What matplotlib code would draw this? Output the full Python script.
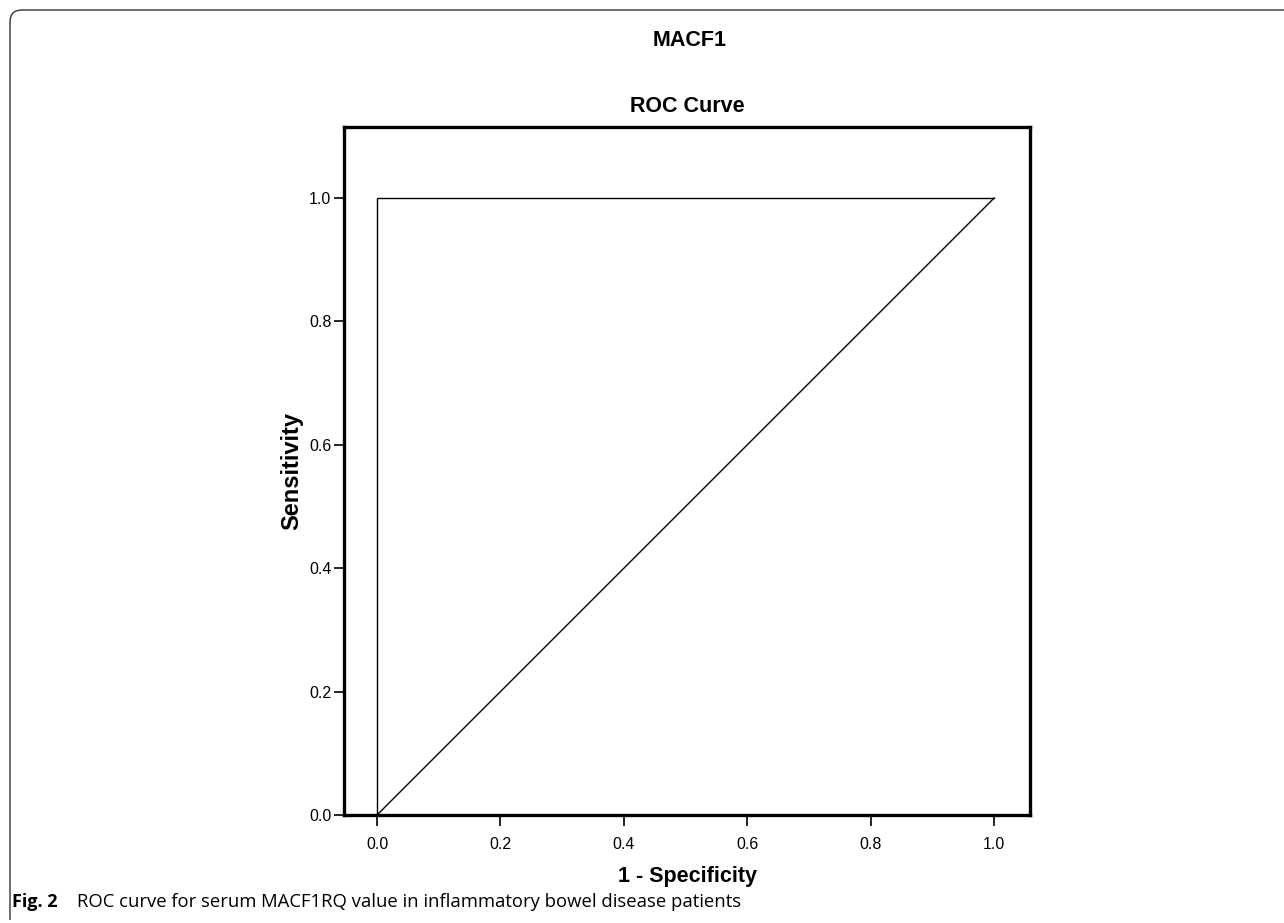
import matplotlib
matplotlib.use("Agg")
import matplotlib.pyplot as plt
from matplotlib.path import Path
from matplotlib.patches import PathPatch

# Data
roc_fpr = [0.0, 0.0, 1.0]
roc_tpr = [0.0, 1.0, 1.0]
ref_x = [0.0, 1.0]
ref_y = [0.0, 1.0]
tick_vals = [0.0, 0.2, 0.4, 0.6, 0.8, 1.0]
tick_labels = ["0.0", "0.2", "0.4", "0.6", "0.8", "1.0"]

W, H = 1284, 923
fig = plt.figure(figsize=(W / 100, H / 100), dpi=100)
plt.rcParams['font.family'] = ['Liberation Sans', 'DejaVu Sans']

ax = fig.add_axes([344 / W, 1 - 815 / H, (1030 - 344) / W, (815 - 127) / H])
ax.plot(roc_fpr, roc_tpr, color='black', lw=1.0, solid_joinstyle='miter')
ax.plot(ref_x, ref_y, color='black', lw=1.0)
ax.set_xlim(-0.0535, 1.058)
ax.set_ylim(0.0, 1.115)
ax.set_xticks(tick_vals)
ax.set_xticklabels(tick_labels)
ax.set_yticks(tick_vals)
ax.set_yticklabels(tick_labels)
for s in ax.spines.values():
    s.set_linewidth(2.4)
ax.tick_params(direction='out', length=7, width=1.2, labelsize=11.5, colors='black')
ax.tick_params(axis='x', pad=8, length=8)
ax.tick_params(axis='y', pad=2)
ax.set_xlabel("1 - Specificity", fontsize=15.5, fontweight='bold', labelpad=10)
ax.set_ylabel("Sensitivity", fontsize=17, fontweight='bold', labelpad=4)
ax.set_title("ROC Curve", fontsize=15.5, fontweight='bold', pad=11)

fig.text(690 / W, 1 - 40 / H, "MACF1", ha='center', va='center',
         fontsize=15.5, fontweight='bold')

# Frame (rounded top-left corner)
x0, y0 = 10 / W, 1 - 10 / H
r = 12
verts = [(1.0, y0), (x0 + r / W, y0), (x0, y0), (x0, y0 - r / H), (x0, 1 - 920 / H)]
codes = [Path.MOVETO, Path.LINETO, Path.CURVE3, Path.CURVE3, Path.LINETO]
fig.add_artist(PathPatch(Path(verts, codes), transform=fig.transFigure,
                         fill=False, lw=1.0, edgecolor='#333333'))

fig.text(12 / W, 1 - 902 / H, "Fig. 2", ha='left', va='center',
         fontsize=13, fontweight='bold', family=['Open Sans', 'DejaVu Sans'])
fig.text(77 / W, 1 - 902 / H, "ROC curve for serum MACF1RQ value in inflammatory bowel disease patients",
         ha='left', va='center', fontsize=13.3, family=['Open Sans', 'DejaVu Sans'])

fig.savefig("out.png", dpi=100)
